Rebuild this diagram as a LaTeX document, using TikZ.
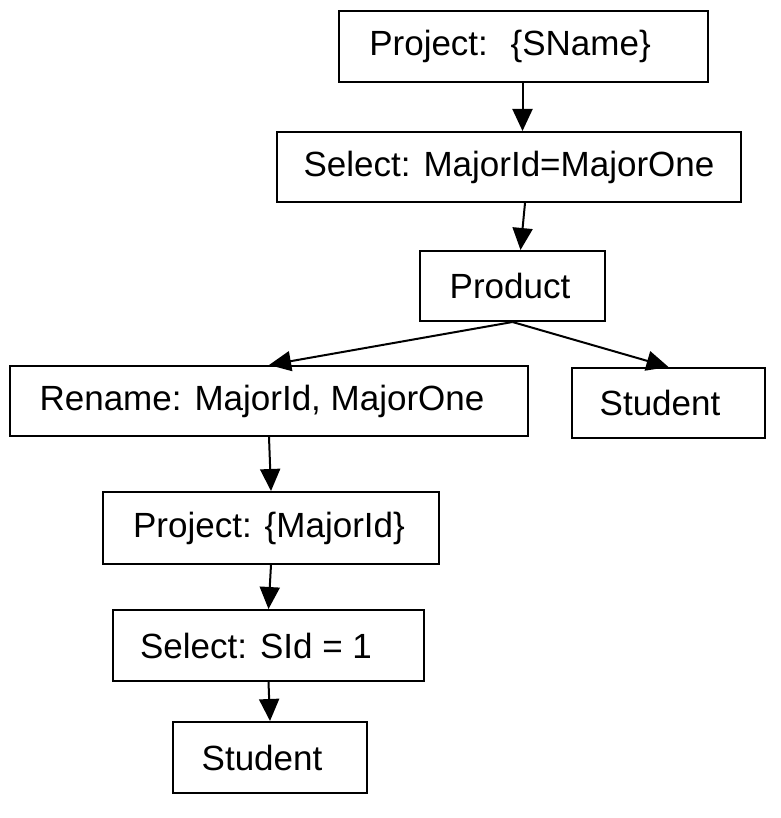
\documentclass[tikz,border=0pt]{standalone}
\usepackage{fontspec}
\setmainfont{Liberation Sans}
\usetikzlibrary{arrows.meta}

\begin{document}
\begin{tikzpicture}[x=1pt,y=-1pt,line width=2pt,
  op/.style={draw,shape=rectangle,inner sep=0pt,minimum height=70pt,font=\fontsize{35}{42}\selectfont},
  >={Triangle[length=22pt,width=20pt]}]

\useasboundingbox (0,0) rectangle (780,818);

\node[op,minimum width=369pt,minimum height=71pt] (proj1) at (523.5,46.5) {Project:~ \{SName\}\hspace*{27pt}};
\node[op,minimum width=464pt] (sel1) at (509,167) {Select: MajorId=MajorOne};
\node[op,minimum width=185pt] (prod) at (512.5,286) {Product\hspace*{5pt}};

\node[op,minimum width=518pt] (ren) at (269,401) {Rename: MajorId, MajorOne\hspace*{14pt}};
\node[op,minimum width=193pt] (stud1) at (668.5,403) {Student\hspace*{17pt}};

\node[op,minimum width=336pt,minimum height=72pt] (proj2) at (271,528) {Project: \{MajorId\}\hspace*{4pt}};
\node[op,minimum width=311pt,minimum height=71pt] (sel2) at (268.5,645.5) {Select: SId = 1\hspace*{25pt}};
\node[op,minimum width=194pt,minimum height=71pt] (stud2) at (270,757.5) {Student\hspace*{16pt}};

\path[->] ([xshift=-1pt]proj1.south) edge ([xshift=-1pt]proj1.south |- sel1.north);
\path[->] ([xshift=16pt]sel1.south) edge ([xshift=8pt]prod.north);
\path[->] (prod.south) edge (ren.north);
\path[->] (prod.south) edge (stud1.north);
\path[->] (ren.south) edge (proj2.north);
\path[->] (proj2.south) edge (sel2.north);
\path[->] (sel2.south) edge (stud2.north);

\end{tikzpicture}
\end{document}
